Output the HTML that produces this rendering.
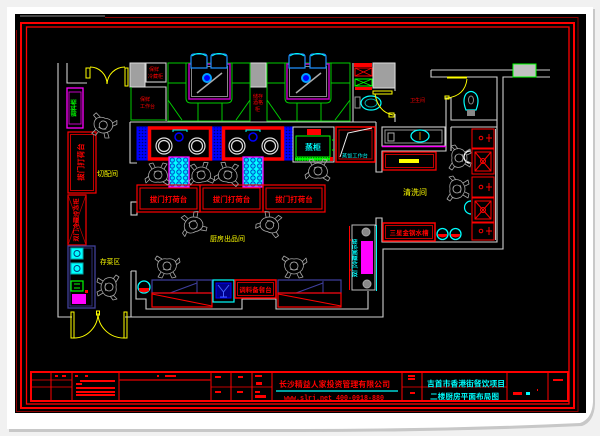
<!DOCTYPE html>
<html><head><meta charset="utf-8"><style>
html,body{margin:0;padding:0;width:600px;height:436px;overflow:hidden;background:#f1f1f1}
svg{display:block}
text{font-family:"Liberation Sans","Noto Sans CJK SC",sans-serif}
</style></head><body>
<svg width="600" height="436" viewBox="0 0 600 436" xmlns="http://www.w3.org/2000/svg" xmlns:xlink="http://www.w3.org/1999/xlink">
<defs>
<pattern id="bdot" width="3" height="3" patternUnits="userSpaceOnUse"><rect width="3" height="3" fill="#0000ff"/><circle cx="1.5" cy="1.5" r="0.8" fill="#000070"/></pattern>
<pattern id="cgrid" x="0" y="0" width="0.3334" height="0.2" patternUnits="objectBoundingBox"><rect width="7" height="6" fill="#00ffff"/><circle cx="3.3" cy="3" r="2.2" fill="#00e0ff" stroke="#0020c0" stroke-width="0.8"/></pattern>
<pattern id="gdot" width="2.5" height="3" patternUnits="userSpaceOnUse"><rect width="2.5" height="3" fill="#00ff00"/><circle cx="1.25" cy="1.5" r="0.7" fill="#006000"/></pattern>
<symbol id="chef" viewBox="0 0 28 24" overflow="visible">
<g fill="none" stroke="#a6a6a6" stroke-width="0.8" stroke-linejoin="round">
<path d="M6,15 Q3,10 6,6 Q10,3 14,4 Q19,3 22,6 Q25,10 22,15 Q18,19 14,19 Q10,19 6,15 Z"/>
<circle cx="14" cy="11" r="4"/>
<path d="M6,7 L2,4 L4,1 L9,4"/>
<path d="M22,7 L26,3 L27,7 L23,10"/>
<path d="M8,17 L5,22 L9,23 L11,19"/>
<path d="M20,17 L23,22 L19,23 L17,19"/>
<path d="M11,8 Q14,6 17,8 M10,14 Q14,16 18,14"/>
</g></symbol>
</defs>

<!-- page -->
<rect width="600" height="436" fill="#f1f1f1"/>
<path d="M9,9 H595 V404 Q594,422 582,426 Q450,432 300,432 H9 Z" fill="#c8c8c8"/>
<path d="M7,7 H593 V402 Q592,419 580,423 Q450,429 300,429 H7 Z" fill="#fff"/>
<rect x="15" y="14" width="571" height="399" fill="#000"/>

<!-- frame -->
<path d="M20,16 H105" stroke="#444" stroke-width="2"/>
<path d="M105,17.5 H578 V411.5 H16.5 V30" stroke="#8b0000" fill="none"/>
<rect x="21" y="23" width="553" height="385" fill="none" stroke="#f00" stroke-width="2"/>
<rect x="26.5" y="27" width="542.5" height="377" fill="none" stroke="#f00" stroke-width="1.3"/>

<!-- title block -->
<g stroke="#f00" fill="none">
<rect x="31" y="372" width="537" height="29" stroke-width="2"/>
<path d="M51,372V401M72,372V401M119,372V401M211,372V401M231,372V401M252,372V401M272,372V401M402,372V401M422,372V401M507,372V401M548,372V401" stroke-width="1"/>
<path d="M31,380H72M31,387H72M211,387H272M402,387H507" stroke-width="0.8"/>
<path d="M119,380H211" stroke-width="1.6" stroke="#c00000"/>
</g>
<g fill="#f00">
<rect x="55" y="375" width="3" height="2"/><rect x="62" y="375" width="4" height="2"/>
<rect x="75" y="375" width="3" height="2"/><rect x="85" y="375" width="3" height="2"/>
<rect x="80" y="380" width="35" height="2"/>
<rect x="76" y="383" width="6" height="2"/>
<rect x="76" y="387" width="39" height="2"/><rect x="76" y="391" width="39" height="2"/><rect x="76" y="394" width="39" height="2"/>
<rect x="157" y="375" width="2" height="2"/><rect x="165" y="375" width="11" height="2"/>
<rect x="215" y="376" width="6" height="2"/><rect x="215" y="391" width="6" height="2"/>
<rect x="238" y="376" width="5" height="2"/><rect x="237" y="391" width="6" height="2"/>
<rect x="255" y="375" width="7" height="2"/><rect x="256" y="382" width="6" height="3"/>
<rect x="255" y="391" width="5" height="2"/><rect x="255" y="395" width="11" height="3"/>
<rect x="408" y="375" width="7" height="2"/><rect x="408" y="378" width="7" height="2"/>
<rect x="410" y="392" width="5" height="2"/>
<rect x="513" y="392" width="9" height="3"/>
<rect x="537" y="389" width="1" height="2"/>
<rect x="553" y="379" width="10" height="2"/>
</g>
<rect x="526" y="392" width="4" height="3" fill="#0ff"/>
<text x="279" y="387" font-size="8" font-weight="bold" fill="#f00" textLength="111" lengthAdjust="spacingAndGlyphs">长沙精益人家投资管理有限公司</text>
<line x1="276" y1="391" x2="398" y2="391" stroke="#0ff" stroke-width="1.2"/>
<text x="284" y="400" font-size="7" font-weight="bold" fill="#f00" textLength="100" lengthAdjust="spacingAndGlyphs" style="font-family:'Liberation Mono',monospace">www.slrj.net 400-0918-880</text>
<text x="427" y="386.5" font-size="7.8" font-weight="bold" fill="#0ff" textLength="78" lengthAdjust="spacingAndGlyphs">吉首市香港街餐饮项目</text>
<text x="430" y="399" font-size="7.5" font-weight="bold" fill="#0ff" textLength="69" lengthAdjust="spacingAndGlyphs">二楼厨房平面布局图</text>

<!-- walls -->
<g fill="none" stroke="#cfcfcf" stroke-width="1.1">
<path d="M58,63 V317 H72"/>
<path d="M67,63 V83 H87"/>
<path d="M125,317 H383 V249 H503 V77 H550"/>
<path d="M431,70 H550 M431,70 V77 H497 V242 H382 V218 H376 V226"/>
<path d="M131,271 V317 M131,271 H136 V299 H146 V309 H242 V299 H276 V309 H368 V291"/>
<path d="M130,122 H376 M130,122 V163 H137"/>
<path d="M376,122 V172 H382 V151 H446 V98 H451 V120 H497 M451,127 H497 M451,127 V151"/>
<path d="M353,63 V122 M395,63 V91 M395,114 V122"/>
<path d="M130,87 H166 V121"/>
<rect x="131" y="202" width="6" height="13"/>
<rect x="146" y="63" width="20" height="19"/>
<rect x="382" y="127" width="63" height="19"/>
</g>
<rect x="130" y="63" width="15" height="24" fill="#a0a0a0" stroke="#ddd"/>
<rect x="250" y="63" width="16" height="24" fill="#a0a0a0" stroke="#ddd"/>
<rect x="373" y="63" width="22" height="25" fill="#a0a0a0" stroke="#ddd"/>
<rect x="513" y="64" width="23" height="13" fill="#c0c0c0" stroke="#00ff00"/>
<path d="M131,87 V120 H166" stroke="#00cc00" fill="none"/>

<!-- small red texts top-left -->
<g fill="#f00" font-size="5">
<text x="149" y="71">保鲜</text><text x="148" y="78">冷藏柜</text>
<text x="140" y="101">保鲜</text><text x="140" y="108">工作台</text>
<text x="253" y="98">储存</text><text x="253" y="104">酒格</text><text x="255" y="111">柜</text>
</g>

<!-- booths -->
<g fill="none" stroke="#00cc00" stroke-width="1">
<rect x="168" y="63" width="82" height="58"/>
<path d="M168,83 H186 M186,63 V98 Q186,103 191,103 H227 Q232,103 232,98 V63 M232,83 H250"/>
<path d="M168,100 L182,120 M250,100 L236,120 M198,103 V121 M222,103 V121"/>
<rect x="267" y="63" width="83" height="58"/>
<path d="M267,83 H285 M285,63 V98 Q285,103 290,103 H326 Q331,103 331,98 V63 M331,83 H350"/>
<path d="M267,100 L281,120 M350,100 L335,120 M297,103 V121 M321,103 V121"/>
</g>
<g>
<rect x="189" y="64" width="41" height="35" fill="#000" stroke="#c000c0" stroke-width="1.5"/>
<rect x="191.5" y="66.5" width="36" height="30" fill="none" stroke="#888"/>
<rect x="287" y="64" width="42" height="35" fill="#000" stroke="#c000c0" stroke-width="1.5"/>
<rect x="289.5" y="66.5" width="37" height="30" fill="none" stroke="#888"/>
<path d="M197,93 L222,73 M296,93 L321,73" stroke="#aaa" stroke-width="1.5"/>
<circle cx="207" cy="78" r="4" fill="#0000ff" stroke="#00a0ff" stroke-width="2"/>
<circle cx="306" cy="78" r="4" fill="#0000ff" stroke="#00a0ff" stroke-width="2"/>
<g fill="#000" stroke="#1e90ff" stroke-width="1.2">
<path d="M191,68 V57 Q191,54 194,54 H204 Q207,54 207,57 V68 Z"/>
<path d="M211,68 V57 Q211,54 214,54 H224 Q227,54 227,57 V68 Z"/>
<path d="M289,68 V57 Q289,54 292,54 H302 Q305,54 305,57 V68 Z"/>
<path d="M310,68 V57 Q310,54 313,54 H323 Q326,54 326,57 V68 Z"/>
</g>
<path d="M192,56 Q199,51 206,56 M212,56 Q219,51 226,56 M290,56 Q297,51 304,56 M311,56 Q318,51 325,56" stroke="#0ff" fill="none"/>
</g>

<!-- right of booth 2 -->
<rect x="354" y="63" width="18" height="4" fill="#f00"/>
<rect x="355" y="68" width="17" height="8" fill="none" stroke="#f00"/>
<path d="M355,68 L372,76 M372,68 L355,76" stroke="#f00" stroke-width="0.7"/>
<rect x="355" y="79" width="17" height="7" fill="none" stroke="#00ff00"/>
<path d="M355,79 L372,86 M372,79 L355,86" stroke="#00ff00" stroke-width="0.7"/>
<rect x="355" y="87" width="17" height="3" fill="#f00"/>
<rect x="355" y="97" width="5" height="11" fill="none" stroke="#999"/>
<ellipse cx="371" cy="103" rx="10" ry="7" fill="none" stroke="#0ff" stroke-width="1.2"/>
<ellipse cx="371" cy="103" rx="6" ry="4" fill="none" stroke="#0aa"/>
<rect x="373" y="91" width="19" height="3" fill="none" stroke="#ff0"/>
<path d="M375,94 Q378,112 393,115" stroke="#ff0" fill="none"/>
<rect x="389" y="113" width="5" height="4" fill="none" stroke="#ff0"/>
<text x="410" y="102" font-size="5" fill="#f00">卫生间</text>
<rect x="447" y="76.5" width="20" height="2" fill="#ff0"/>
<path d="M467,79 Q465,96 447,98" stroke="#ff0" fill="none"/>
<rect x="445" y="96" width="4" height="3" fill="none" stroke="#ff0"/>
<path d="M466,110 Q462,100 466,94 Q471,89 476,94 Q480,100 476,110 Z" fill="none" stroke="#0ff" stroke-width="1.2"/>
<ellipse cx="471" cy="100" rx="2.5" ry="4" fill="none" stroke="#888"/>
<rect x="467" y="110" width="8" height="6" fill="#888"/>

<!-- stoves -->
<rect x="137" y="127" width="11" height="33" fill="url(#bdot)" stroke="#00f"/>
<rect x="212" y="127" width="10" height="33" fill="url(#bdot)" stroke="#00f"/>
<rect x="284" y="127" width="9" height="33" fill="url(#bdot)" stroke="#00f"/>
<g fill="#000" stroke="#f00" stroke-width="3.5">
<rect x="149.5" y="128" width="61" height="31"/>
<rect x="223.5" y="128" width="59" height="31"/>
</g>
<g fill="none" stroke="#e0e0e0" stroke-width="1.2">
<circle cx="164" cy="146" r="8"/><circle cx="164" cy="146" r="5.5"/>
<circle cx="197" cy="146" r="8"/><circle cx="197" cy="146" r="5.5"/>
<circle cx="237" cy="146" r="8"/><circle cx="237" cy="146" r="5.5"/>
<circle cx="270" cy="146" r="8"/><circle cx="270" cy="146" r="5.5"/>
</g>
<circle cx="179" cy="137" r="4" fill="none" stroke="#00f" stroke-width="1.5"/>
<circle cx="253" cy="137" r="4" fill="none" stroke="#00f" stroke-width="1.5"/>
<path d="M173,132 V130 H187 V132 M246,132 V130 H260 V132" stroke="#0ff" fill="none"/>

<!-- steamer -->
<rect x="293" y="127" width="41" height="35" fill="#000" stroke="#ddd"/>
<rect x="296" y="136" width="34" height="21" fill="#000" stroke="#00ff00"/>
<rect x="307" y="129" width="14" height="6" fill="#f00"/>
<rect x="295" y="157" width="36" height="4" fill="url(#gdot)"/>
<rect x="330" y="157" width="3" height="4" fill="#f00"/>
<path d="M330,138 V155 M332,140 H334 M332,150 H334" stroke="#00ff00"/>
<text x="313" y="150" font-size="8" fill="#0ff" text-anchor="middle" font-weight="bold">蒸柜</text>
<rect x="336" y="127" width="39" height="35" fill="none" stroke="#f00" stroke-width="1.5"/>
<rect x="339" y="130" width="33" height="29" fill="none" stroke="#c00000"/>
<path d="M340,157 L348,133 L372,128" stroke="#eee" fill="none"/>
<text x="342" y="157.5" font-size="5" fill="#0ff" textLength="26" lengthAdjust="spacingAndGlyphs">蒸饭工作台</text>

<!-- right sink area -->
<rect x="385" y="130" width="57" height="13" fill="none" stroke="#999"/>
<rect x="388" y="133" width="6" height="8" fill="none" stroke="#aaa"/>
<ellipse cx="420" cy="136" rx="9" ry="6" fill="none" stroke="#0ff" stroke-width="1.3"/>
<path d="M420,132 V140" stroke="#c08000"/>
<line x1="382" y1="146.5" x2="446" y2="146.5" stroke="#f0f" stroke-width="1.5"/>
<rect x="383" y="152" width="53" height="18" fill="none" stroke="#f00" stroke-width="1.3"/>
<rect x="385.5" y="154.5" width="48" height="13" fill="none" stroke="#c00000"/>
<rect x="399" y="159" width="20" height="4" fill="#ff0"/>
<text x="403" y="195" font-size="8" fill="#ff0" textLength="24" lengthAdjust="spacingAndGlyphs">清洗间</text>

<!-- right equipment column -->
<g fill="none" stroke="#f00">
<rect x="472" y="129" width="22" height="19"/>
<rect x="472" y="149" width="22" height="25"/>
<rect x="475" y="152" width="16" height="19"/>
<path d="M475,152 L491,171 M491,152 L475,171"/>
<rect x="472" y="177" width="22" height="20"/>
<rect x="472" y="198" width="22" height="24"/>
<rect x="475" y="201" width="16" height="18"/>
<path d="M475,201 L491,219 M491,201 L475,219"/>
<rect x="472" y="223" width="22" height="17"/>
<circle cx="481" cy="138" r="1.8"/><circle cx="481" cy="187" r="1.8"/><circle cx="481" cy="231" r="1.8"/>
<path d="M486,138 H492 M489,134 V142 M486,187 H492 M489,183 V191 M486,231 H492 M489,227 V235"/>
<circle cx="483" cy="161" r="2.5"/><circle cx="483" cy="210" r="2.5"/>
</g>
<line x1="495.5" y1="129" x2="495.5" y2="240" stroke="#bbb"/>
<path d="M470,151 A6,6 0 0 0 470,163" stroke="#fff" stroke-width="1.3" fill="none"/>
<path d="M471,201 A6,6 0 0 0 471,214" stroke="#0ff" stroke-width="1.2" fill="none"/>

<!-- cyan cabinets -->
<rect x="169" y="157" width="20" height="30" fill="url(#cgrid)" stroke="#f0f" stroke-width="1.3"/>
<rect x="243" y="157" width="20" height="30" fill="url(#cgrid)" stroke="#f0f" stroke-width="1.3"/>

<!-- pick-up counters -->
<g fill="none" stroke="#f00">
<rect x="137" y="185" width="63" height="27" stroke-width="1.2"/>
<rect x="140" y="188" width="57" height="21"/>
<rect x="200" y="185" width="63" height="27" stroke-width="1.2"/>
<rect x="203" y="188" width="57" height="21"/>
<rect x="263" y="185" width="62" height="27" stroke-width="1.2"/>
<rect x="266" y="188" width="56" height="21"/>
</g>
<g fill="#f00" font-size="7.5" font-weight="bold" text-anchor="middle">
<text x="168.5" y="202">拔门打荷台</text>
<text x="231.5" y="202">拔门打荷台</text>
<text x="294" y="202">拔门打荷台</text>
</g>
<text x="210" y="241" font-size="7" fill="#ff0" textLength="35" lengthAdjust="spacingAndGlyphs">厨房出品间</text>

<!-- left column -->
<rect x="67" y="88" width="16" height="40" fill="none" stroke="#f0f" stroke-width="1.3"/>
<rect x="69" y="92" width="12" height="32" fill="none" stroke="#c000c0"/>
<text transform="translate(75,108) rotate(-90)" font-size="6" fill="#00ff00" text-anchor="middle" dominant-baseline="central" font-weight="bold">调料柜</text>
<rect x="68" y="132" width="28" height="61" fill="none" stroke="#f00" stroke-width="1.2"/>
<rect x="70.5" y="134.5" width="23" height="56" fill="none" stroke="#c00000"/>
<text transform="translate(81,162) rotate(-90)" font-size="7.5" fill="#f00" text-anchor="middle" dominant-baseline="central" font-weight="bold">拔门打荷台</text>
<text x="97" y="176" font-size="7" fill="#ff0" textLength="21" lengthAdjust="spacingAndGlyphs">切配间</text>
<rect x="68" y="195" width="18" height="50" fill="none" stroke="#f00" stroke-width="1.2"/>
<path d="M68,195 L86,245 M86,195 L68,245" stroke="#c00000" stroke-width="0.7"/>
<text transform="translate(77,220) rotate(-90)" font-size="6.2" fill="#f00" text-anchor="middle" dominant-baseline="central" font-weight="bold">双门冷藏冷冻柜</text>
<rect x="68" y="246" width="27" height="62" fill="none" stroke="#40409a" stroke-width="1.3"/>
<rect x="70" y="248" width="22" height="58" fill="none" stroke="#30307a"/>
<rect x="71" y="248" width="12" height="11" fill="#0ff" stroke="#0aa"/>
<circle cx="77" cy="253.5" r="3" fill="none" stroke="#004080"/>
<rect x="71" y="263" width="12" height="11" fill="#0ff" stroke="#0aa"/>
<circle cx="77" cy="268.5" r="3" fill="none" stroke="#004080"/>
<rect x="71" y="281" width="12" height="10" fill="#000" stroke="#00ff00" stroke-width="1.2"/>
<path d="M74,284 h6 M74,288 h6" stroke="#00ff00"/>
<rect x="72" y="294" width="14" height="10" fill="#f0f"/>
<rect x="85" y="290" width="3" height="3" fill="#f00"/>
<text x="100" y="264" font-size="7" fill="#ff0" textLength="20" lengthAdjust="spacingAndGlyphs">存菜区</text>

<!-- doors -->
<g fill="none" stroke="#ff0" stroke-width="1">
<rect x="86" y="68" width="4" height="10"/>
<rect x="125" y="68" width="3" height="18"/>
<path d="M90,67 A17,17 0 0 1 107,84 M107,84 A18,18 0 0 1 125,67"/>
<rect x="71" y="312" width="3" height="26"/>
<rect x="124" y="312" width="3" height="26"/>
<rect x="96.5" y="311" width="3" height="4"/>
<path d="M74,338 A24,25 0 0 0 98,313 M98,313 A26,25 0 0 0 124,338"/>
</g>

<!-- bottom counters -->
<rect x="152" y="280" width="60" height="13" fill="none" stroke="#4040a0" stroke-width="1.2"/>
<path d="M170,293 L197,283 M197,281 V293" stroke="#4040a0" fill="none"/>
<rect x="152" y="293" width="60" height="14" fill="none" stroke="#f00" stroke-width="1.2"/>
<path d="M152,294 L212,306" stroke="#f00"/>
<rect x="278" y="280" width="63" height="13" fill="none" stroke="#4040a0" stroke-width="1.2"/>
<path d="M296,293 L323,283 M323,281 V293" stroke="#4040a0" fill="none"/>
<rect x="278" y="293" width="63" height="14" fill="none" stroke="#f00" stroke-width="1.2"/>
<path d="M278,294 L341,306" stroke="#f00"/>
<rect x="213" y="280" width="21" height="22" fill="none" stroke="#0ff" stroke-width="1.2"/>
<rect x="216" y="283" width="15" height="15" fill="#00008b" stroke="#00f"/>
<path d="M218,285 L223.5,292 L229,285 M223.5,292 V297 M220,297 H227" stroke="#4060ff" fill="none"/>
<rect x="235" y="280" width="41" height="18" fill="none" stroke="#f00" stroke-width="1.5"/>
<rect x="237.5" y="282.5" width="36" height="13" fill="none" stroke="#c00000"/>
<text x="255.5" y="292" font-size="6.5" fill="#f00" text-anchor="middle" font-weight="bold">调料备餐台</text>
<circle cx="144" cy="287" r="6" fill="none" stroke="#0ff" stroke-width="1.3"/>
<path d="M139,288 H149 V291 Q144,294 139,291 Z" fill="#f00"/>

<!-- pass-through cabinet -->
<rect x="352" y="225" width="23" height="65" fill="none" stroke="#bbb"/>
<line x1="349.5" y1="226" x2="349.5" y2="290" stroke="#f00"/>
<path d="M349,240 h3 M349,270 h3" stroke="#f00"/>
<line x1="376.5" y1="225" x2="376.5" y2="291" stroke="#0ff"/>
<circle cx="366" cy="232" r="4" fill="#888" stroke="#aaa"/>
<circle cx="367" cy="284" r="4" fill="#888" stroke="#aaa"/>
<rect x="361" y="241" width="12" height="33" fill="#f0f"/>
<text transform="translate(356,258) rotate(-90)" font-size="5.5" fill="#0ff" text-anchor="middle" dominant-baseline="central" font-weight="bold">双门冷藏展示柜</text>

<!-- sink right -->
<rect x="383" y="223" width="52" height="18" fill="none" stroke="#f00" stroke-width="1.5"/>
<rect x="385.5" y="225.5" width="47" height="13" fill="none" stroke="#c00000"/>
<text x="409" y="235" font-size="6.5" fill="#f00" text-anchor="middle" font-weight="bold">三星金钢水槽</text>
<circle cx="442.5" cy="234" r="5.5" fill="none" stroke="#0ff" stroke-width="1.3"/>
<path d="M438,234 H447 V236 Q442.5,239 438,236 Z" fill="#f00"/>
<circle cx="455.5" cy="234" r="5.5" fill="none" stroke="#0ff" stroke-width="1.3"/>
<path d="M451,234 H460 V236 Q455.5,239 451,236 Z" fill="#f00"/>

<!-- chefs -->
<use href="#chef" xlink:href="#chef" x="89" y="114" width="28" height="24" transform="rotate(15 103 126)"/>
<use href="#chef" xlink:href="#chef" x="144" y="162" width="28" height="24" transform="rotate(180 158 174)"/>
<use href="#chef" xlink:href="#chef" x="187" y="162" width="28" height="24" transform="rotate(170 201 174)"/>
<use href="#chef" xlink:href="#chef" x="214" y="162" width="28" height="24" transform="rotate(190 228 174)"/>
<use href="#chef" xlink:href="#chef" x="304" y="158" width="28" height="24" transform="rotate(180 318 170)"/>
<use href="#chef" xlink:href="#chef" x="179" y="212" width="28" height="24" transform="rotate(160 193 224)"/>
<use href="#chef" xlink:href="#chef" x="256" y="212" width="28" height="24" transform="rotate(200 270 224)"/>
<use href="#chef" xlink:href="#chef" x="153" y="255" width="28" height="24"/>
<use href="#chef" xlink:href="#chef" x="280" y="255" width="28" height="24"/>
<use href="#chef" xlink:href="#chef" x="94" y="275" width="28" height="24" transform="rotate(90 108 287)"/>
<use href="#chef" xlink:href="#chef" x="446" y="146" width="28" height="24" transform="rotate(-90 460 158)"/>
<use href="#chef" xlink:href="#chef" x="444" y="177" width="28" height="24" transform="rotate(-90 458 189)"/>
</svg>
</body></html>
